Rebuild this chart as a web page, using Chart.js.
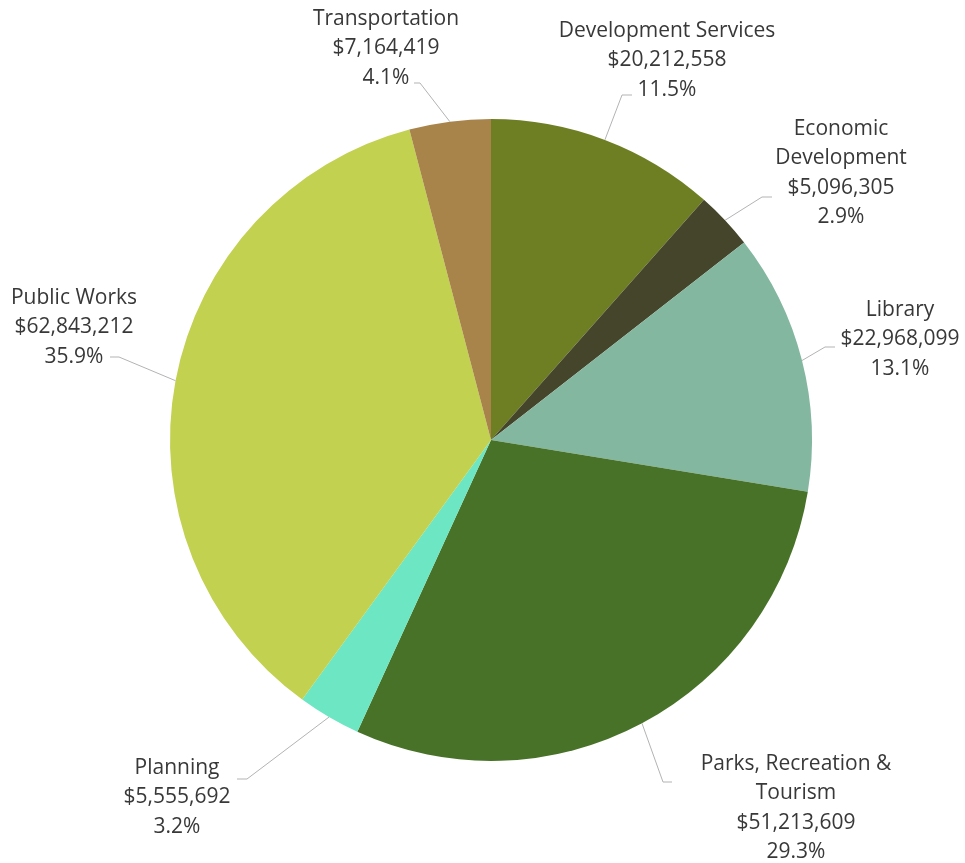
<!DOCTYPE html>
<html>
<head>
<meta charset="utf-8">
<script src="https://cdn.jsdelivr.net/npm/chart.js@4"></script>
<style>
  html, body { margin: 0; padding: 0; background: #fff; }
  #wrap { width: 965px; height: 863px; position: relative; }
</style>
</head>
<body>
<div id="wrap"><canvas id="grafico"></canvas></div>
<script>
// dados
const categorias = ["Development Services", "Economic\nDevelopment", "Library", "Parks, Recreation &\nTourism", "Planning", "Public Works", "Transportation"];
const valores = [20212558, 5096305, 22968099, 51213609, 5555692, 62843212, 7164419];
const cores = ["#6e7f23", "#45452b", "#84b7a0", "#477227", "#6de6c3", "#c2d14f", "#a8834a"];

// posição dos rótulos: centro do texto, y da 1a linha, ponto de ligação e cotovelo da linha guia
const posRotulos = [
  { cx: 667, y: 30,  ax: 632, ay: 95,  ex: 622, ey: 95 },
  { cx: 841, y: 128, ax: 772, ay: 197, ex: 762, ey: 197 },
  { cx: 900, y: 309, ax: 835, ay: 347, ex: 825, ey: 347 },
  { cx: 796, y: 763, ax: 672, ay: 782, ex: 663, ey: 782 },
  { cx: 177, y: 767, ax: 237, ay: 779, ex: 247, ey: 779 },
  { cx: 74,  y: 297, ax: 110, ay: 357, ex: 119, ey: 357 },
  { cx: 386, y: 18,  ax: 414, ay: 83,  ex: 420, ey: 83 }
];

const total = valores.reduce((a, b) => a + b, 0);

// plugin simples para desenhar rótulos com linhas guia
const rotulosPlugin = {
  id: "rotulos",
  afterDraw(chart) {
    const ctx = chart.ctx;
    const arcos = chart.getDatasetMeta(0).data;
    ctx.save();
    arcos.forEach((arco, i) => {
      const p = arco.getProps(["x", "y", "startAngle", "endAngle", "outerRadius"], true);
      const meio = (p.startAngle + p.endAngle) / 2;
      const bx = p.x + Math.cos(meio) * p.outerRadius;
      const by = p.y + Math.sin(meio) * p.outerRadius;
      const pos = posRotulos[i];

      ctx.strokeStyle = "#b3b3b3";
      ctx.lineWidth = 1;
      ctx.beginPath();
      ctx.moveTo(bx, by);
      ctx.lineTo(pos.ex, pos.ey);
      ctx.lineTo(pos.ax, pos.ay);
      ctx.stroke();

      const linhas = categorias[i].split("\n");
      linhas.push("$" + valores[i].toLocaleString("en-US"));
      linhas.push((valores[i] / total * 100).toFixed(1) + "%");

      ctx.fillStyle = "#383838";
      ctx.font = "21px 'Open Sans'";
      ctx.textAlign = "center";
      ctx.textBaseline = "middle";
      linhas.forEach((t, k) => ctx.fillText(t, pos.cx, pos.y + 1 + k * 29.3));
    });
    ctx.restore();
  }
};

const ctx = document.getElementById("grafico").getContext("2d");
new Chart(ctx, {
  type: "pie",
  data: {
    labels: categorias,
    datasets: [{
      data: valores,
      backgroundColor: cores,
      borderWidth: 0
    }]
  },
  options: {
    responsive: true,
    maintainAspectRatio: false,
    animation: false,
    layout: { padding: { left: 170, right: 153, top: 119, bottom: 102 } },
    plugins: {
      legend: { display: false },
      tooltip: { enabled: false }
    }
  },
  plugins: [rotulosPlugin]
});
</script>
</body>
</html>
